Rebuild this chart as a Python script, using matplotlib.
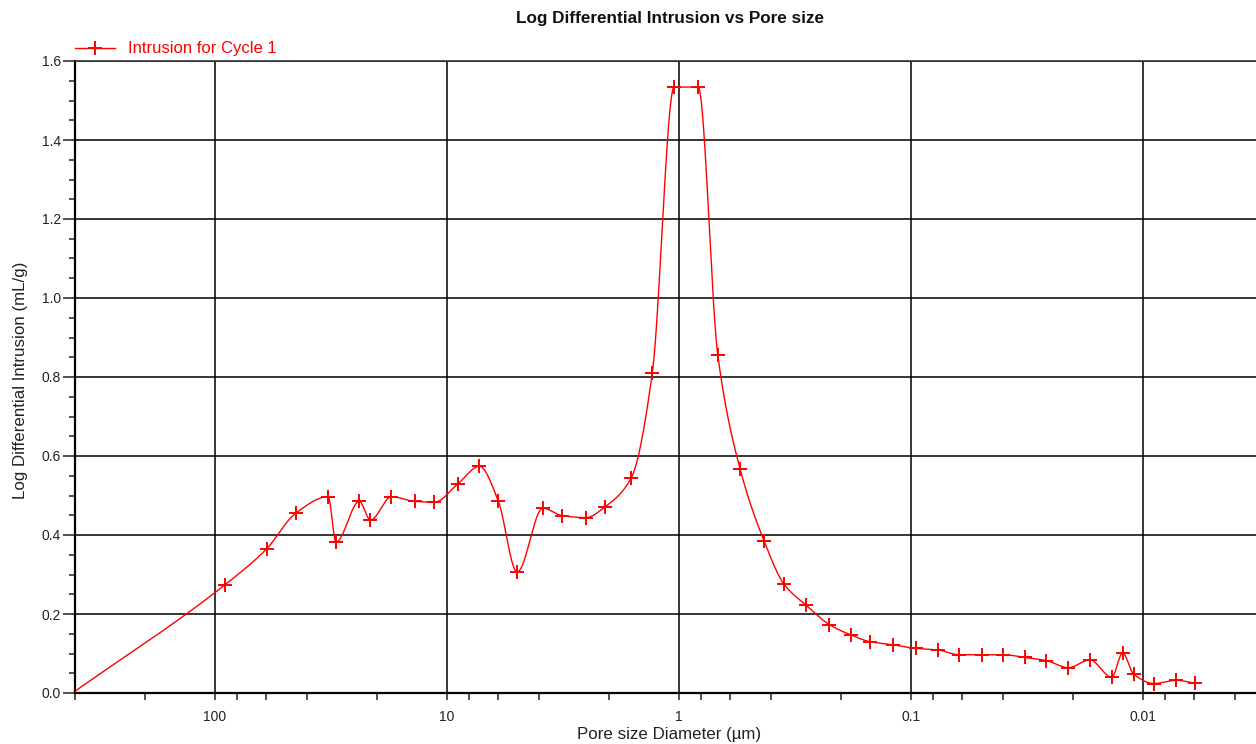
import numpy as np
import matplotlib
matplotlib.use("Agg")
import matplotlib.pyplot as plt
from matplotlib.lines import Line2D
from matplotlib.ticker import LogLocator, MultipleLocator, FuncFormatter, NullFormatter, FormatStrFormatter

plt.rcParams['font.family'] = ['Liberation Sans', 'DejaVu Sans']

# Mercury intrusion, cycle 1: pore diameter (µm) and log differential intrusion (mL/g)
pore_diameter = [410, 90.3, 59.7, 44.8, 32.4, 30.0, 23.8, 21.3, 17.3, 13.7, 11.3,
                 8.93, 7.23, 6.0, 4.97, 3.85, 3.18, 2.51, 2.07, 1.60, 1.30,
                 1.046, 0.824, 0.678, 0.543, 0.428, 0.351, 0.282, 0.224, 0.181,
                 0.150, 0.119, 0.0952, 0.0761, 0.0621, 0.0495, 0.0401, 0.0322,
                 0.0260, 0.0209, 0.0169, 0.0136, 0.0122, 0.01094, 0.00894,
                 0.00716, 0.00596]
log_diff_intrusion = [0.0, 0.274, 0.365, 0.455, 0.497, 0.382, 0.485, 0.438, 0.497,
                      0.485, 0.483, 0.530, 0.574, 0.487, 0.306, 0.468, 0.449, 0.444,
                      0.472, 0.545, 0.809, 1.534, 1.534, 0.855, 0.566, 0.384, 0.275,
                      0.222, 0.173, 0.147, 0.130, 0.122, 0.113, 0.109, 0.097, 0.097,
                      0.097, 0.090, 0.082, 0.064, 0.084, 0.040, 0.101, 0.048, 0.024,
                      0.032, 0.025]

series_label = "Intrusion for Cycle 1"
title = "Log Differential Intrusion vs Pore size"
x_label = "Pore size Diameter (µm)"
y_label = "Log Differential Intrusion (mL/g)"


def pchip(t, y, tn):
    """Shape-preserving piecewise cubic Hermite curve through (t, y)."""
    t = np.asarray(t, float)
    y = np.asarray(y, float)
    h = np.diff(t)
    delta = np.diff(y) / h
    d = np.zeros_like(y)
    for k in range(1, len(y) - 1):
        if delta[k - 1] * delta[k] > 0:
            w1 = 2 * h[k] + h[k - 1]
            w2 = h[k] + 2 * h[k - 1]
            d[k] = (w1 + w2) / (w1 / delta[k - 1] + w2 / delta[k])
    d[0] = delta[0]
    d[-1] = delta[-1]
    idx = np.clip(np.searchsorted(t, tn) - 1, 0, len(t) - 2)
    hh = h[idx]
    s = (tn - t[idx]) / hh
    h00 = 2 * s**3 - 3 * s**2 + 1
    h10 = s**3 - 2 * s**2 + s
    h01 = -2 * s**3 + 3 * s**2
    h11 = s**3 - s**2
    return h00 * y[idx] + h10 * hh * d[idx] + h01 * y[idx + 1] + h11 * hh * d[idx + 1]


x = np.array(pore_diameter)
y = np.array(log_diff_intrusion)
t = -np.log10(x)
tn = np.linspace(t[0], t[-1], 3000)
curve_x = 10 ** (-tn)
curve_y = pchip(t, y, tn)

W, H = 1256, 744
fig = plt.figure(figsize=(W / 100, H / 100), dpi=100)
left, right, top, bottom = 75, 1264, 61, 693
ax = fig.add_axes([left / W, 1 - bottom / H, (right - left) / W, (bottom - top) / H])

ax.set_xscale('log')
ax.set_xlim(400, 0.003)
ax.set_ylim(0, 1.6)

ax.plot(curve_x, curve_y, color='red', lw=1.0, zorder=3)
ax.plot(x[1:], y[1:], ls='none', marker='+', ms=10, mew=1.4, color='red', zorder=4)

ax.xaxis.set_major_locator(LogLocator(base=10, subs=(1.0,)))
ax.xaxis.set_minor_locator(LogLocator(base=10, subs=(2.0, 4.0, 6.0, 8.0)))
ax.xaxis.set_major_formatter(FuncFormatter(lambda v, p: f"{v:g}"))
ax.xaxis.set_minor_formatter(NullFormatter())
ax.yaxis.set_major_locator(MultipleLocator(0.2))
ax.yaxis.set_minor_locator(MultipleLocator(0.05))
ax.yaxis.set_major_formatter(FormatStrFormatter('%.1f'))

ax.grid(True, which='major', color='black', lw=1.1, zorder=1)
ax.set_axisbelow(True)

ax.tick_params(axis='x', which='both', direction='out', length=5, width=1.1,
               labelsize=10, pad=7, color='#222222', labelcolor='#222222')
ax.tick_params(axis='y', which='major', direction='out', length=8.5, width=1.1,
               labelsize=10, pad=1.5, color='#222222', labelcolor='#222222')
ax.tick_params(axis='y', which='minor', direction='out', length=4.5, width=1.1,
               color='#222222')

for side in ('left', 'bottom'):
    ax.spines[side].set_linewidth(1.6)
    ax.spines[side].set_color('black')
ax.spines['top'].set_linewidth(1.2)
ax.spines['top'].set_color('#333333')
ax.spines['right'].set_visible(False)

ax.set_xlabel(x_label, fontsize=12.2, color='#222222', va='center')
ax.xaxis.set_label_coords(0.5, -(735 - bottom) / (bottom - top))
ax.set_ylabel(y_label, fontsize=12.2, color='#222222', va='center')
ax.yaxis.set_label_coords(-(left - 20) / (right - left), (bottom - 380) / (bottom - top))

ax.set_title(title, fontsize=12.3, fontweight='bold', color='#111111',
             y=1 + (top - 18) / (bottom - top), va='center', pad=0)

handle = Line2D([], [], color='red', lw=1.0, marker='+', ms=10, mew=1.4)
fig.legend(handles=[handle], labels=[series_label], loc='center left',
           bbox_to_anchor=(left / W, 1 - 49 / H), frameon=False, fontsize=12,
           labelcolor='red', handlelength=2.4, handletextpad=0.8,
           borderpad=0, borderaxespad=0)

fig.savefig('out.png', dpi=100)
